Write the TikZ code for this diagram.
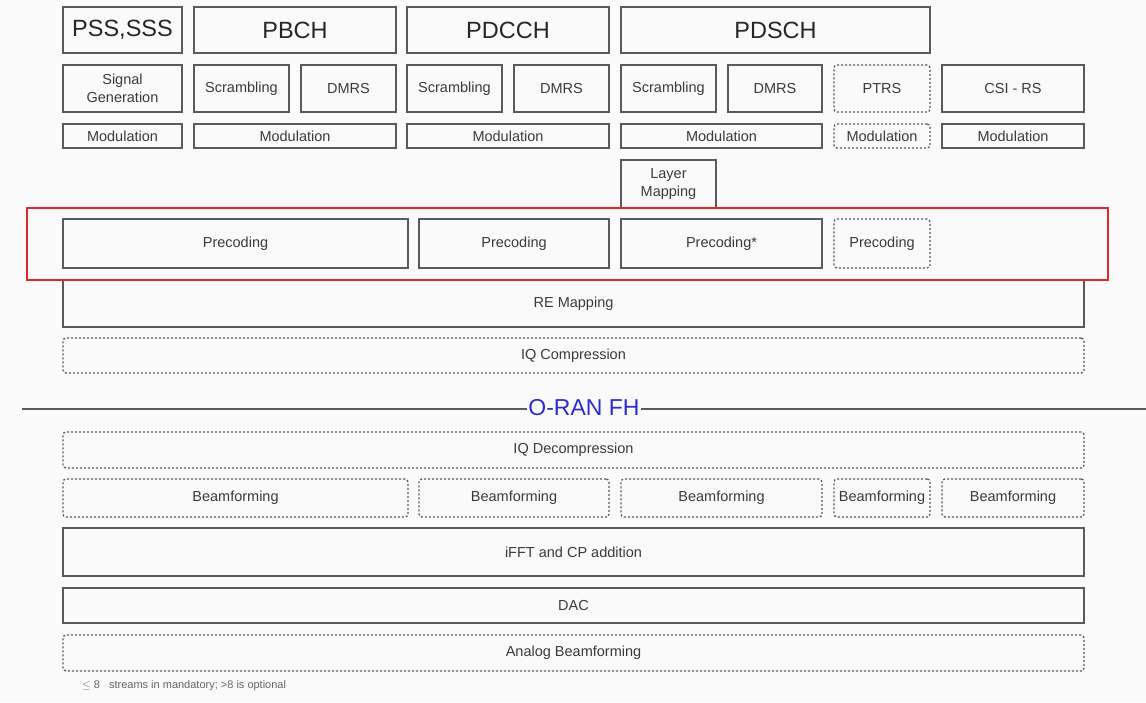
\documentclass[tikz,border=0pt]{standalone}
\usepackage{fontspec}
\setmainfont{Liberation Sans}
\definecolor{bgc}{HTML}{FAFAFB}
\definecolor{linec}{HTML}{5A5A5E}
\definecolor{txtc}{HTML}{3A3A3A}
\definecolor{redc}{HTML}{E0282A}
\definecolor{bluec}{HTML}{2B2BD6}
\newcommand{\mybox}[7]{%
  \node[#6, minimum width={#4-#2}, minimum height={#5-#3}] (#1) at ({(#2+#4)/2},{(#3+#5)/2}) {#7};}
\tikzset{
  base/.style={inner sep=0pt, outer sep=0pt, text=txtc, align=center, font=\fontsize{14.5}{17.5}\selectfont},
  solidbox/.style={base, draw=linec, line width=1.4pt},
  dotbox/.style={base, draw=linec, line width=1.3pt, dash pattern=on 2pt off 2pt, rounded corners=3pt},
  bigbox/.style={solidbox, font=\fontsize{23.5}{26}\selectfont, text=black!85},
}
\begin{document}
\begin{tikzpicture}[x=1pt,y=-1pt]
\fill[bgc] (0,0) rectangle (1146,702);
\useasboundingbox (0,0) rectangle (1146,702);
% row 1
\mybox{pss}{63}{7}{182}{53}{bigbox}{PSS,SSS}
\mybox{pbch}{194}{7}{396}{53}{bigbox}{PBCH}
\mybox{pdcch}{407}{7}{609}{53}{bigbox}{PDCCH}
\mybox{pdsch}{621}{7}{930}{53}{bigbox}{PDSCH}
% row 2
\mybox{sig}{63}{65}{182}{112}{solidbox}{Signal\\Generation}
\mybox{scr1}{194}{65}{289}{112}{solidbox}{Scrambling}
\mybox{dm1}{301}{65}{396}{112}{solidbox}{DMRS}
\mybox{scr2}{407}{65}{502}{112}{solidbox}{Scrambling}
\mybox{dm2}{514}{65}{609}{112}{solidbox}{DMRS}
\mybox{scr3}{621}{65}{716}{112}{solidbox}{Scrambling}
\mybox{dm3}{728}{65}{822}{112}{solidbox}{DMRS}
\mybox{ptrs}{834}{65}{930}{112}{dotbox}{PTRS}
\mybox{csi}{942}{65}{1084}{112}{solidbox}{CSI - RS}
% row 3
\mybox{mod1}{63}{124}{182}{148}{solidbox}{Modulation}
\mybox{mod2}{194}{124}{396}{148}{solidbox}{Modulation}
\mybox{mod3}{407}{124}{609}{148}{solidbox}{Modulation}
\mybox{mod4}{621}{124}{822}{148}{solidbox}{Modulation}
\mybox{mod5}{834}{124}{930}{148}{dotbox}{Modulation}
\mybox{mod6}{942}{124}{1084}{148}{solidbox}{Modulation}
% layer mapping
\mybox{lm}{621}{160}{716}{208}{solidbox}{Layer\\Mapping}
% precoding
\mybox{pre1}{63}{219}{408}{268}{solidbox}{Precoding}
\mybox{pre2}{419}{219}{609}{268}{solidbox}{Precoding}
\mybox{pre3}{621}{219}{822}{268}{solidbox}{Precoding*}
\mybox{pre4}{834}{219}{930}{268}{dotbox}{Precoding}
% RE mapping
\mybox{rem}{63}{280}{1084}{327}{solidbox}{RE Mapping}
\mybox{iqc}{63}{338}{1084}{373}{dotbox}{IQ Compression}
% red highlight
\mybox{red}{27}{208}{1108}{280}{inner sep=0pt, draw=redc, line width=2pt}{}
% O-RAN FH
\node[inner sep=1pt, text=bluec, font=\fontsize{23}{26}\selectfont] (fh) at (584,408) {O-RAN FH};
\coordinate (fhl) at (22,409);
\coordinate (fhr) at (1146,409);
\draw[linec, line width=1.5pt] (fhl) -- (fh.west |- fhl);
\draw[linec, line width=1.5pt] (fh.east |- fhr) -- (fhr);
% lower part
\mybox{iqd}{63}{432}{1084}{468}{dotbox}{IQ Decompression}
\mybox{bf1}{63}{479}{408}{517}{dotbox}{Beamforming}
\mybox{bf2}{419}{479}{609}{517}{dotbox}{Beamforming}
\mybox{bf3}{621}{479}{822}{517}{dotbox}{Beamforming}
\mybox{bf4}{834}{479}{930}{517}{dotbox}{Beamforming}
\mybox{bf5}{942}{479}{1084}{517}{dotbox}{Beamforming}
\mybox{ifft}{63}{528}{1084}{576}{solidbox}{iFFT and CP addition}
\mybox{dac}{63}{588}{1084}{623}{solidbox}{DAC}
\mybox{abf}{63}{635}{1084}{671}{dotbox}{Analog Beamforming}
% footnote
\node[anchor=west, inner sep=0pt, text=black!60, font=\fontsize{11}{12}\selectfont] (note) at (82,686) {$\leq$ 8\ \ \ streams in mandatory; >8 is optional};
\end{tikzpicture}
\end{document}
